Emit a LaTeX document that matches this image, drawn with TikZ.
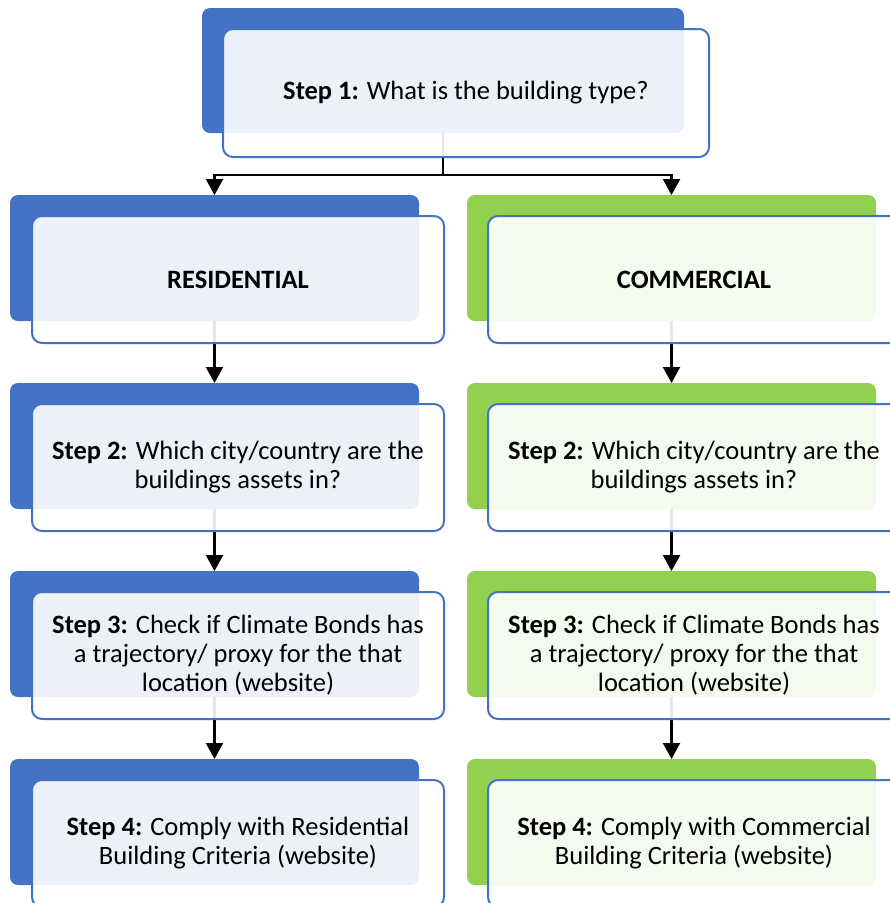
\documentclass[tikz,border=0pt]{standalone}
\usepackage{fontspec}
\setmainfont{Carlito}
\usetikzlibrary{arrows.meta}
\definecolor{stepblue}{HTML}{4472C4}
\definecolor{stepgreen}{HTML}{92D050}
\tikzset{
  backbox/.style={rectangle, rounded corners=8pt, inner sep=0pt, outer sep=0pt,
    anchor=north west, minimum width=409pt, minimum height=126pt},
  frontbox/.style={rectangle, rounded corners=10pt, draw=stepblue, line width=2pt,
    fill=white, fill opacity=0.9, text opacity=1, draw opacity=1,
    inner sep=0pt, outer sep=0pt, anchor=north west,
    minimum width=412pt, minimum height=127pt, align=center,
    font=\fontsize{26.5}{29}\selectfont},
  flow/.style={line width=2.2pt, -{Triangle[width=17pt,length=16pt]}},
}

\begin{document}
\begin{tikzpicture}[x=1pt,y=-1pt]
\path[use as bounding box, clip] (0,0) rectangle (890,903);

% coloured backs
\node[backbox, fill=stepblue, minimum width=482pt, minimum height=125pt] (type) at (202,8) {};
\node[backbox, fill=stepblue] (res1) at (10,195) {};
\node[backbox, fill=stepblue] (res2) at (10,383) {};
\node[backbox, fill=stepblue] (res3) at (10,571) {};
\node[backbox, fill=stepblue] (res4) at (10,759) {};
\node[backbox, fill=stepgreen] (com1) at (467,195) {};
\node[backbox, fill=stepgreen] (com2) at (467,383) {};
\node[backbox, fill=stepgreen] (com3) at (467,571) {};
\node[backbox, fill=stepgreen] (com4) at (467,759) {};

% connectors
\coordinate (split) at (443,175);
\draw[line width=2.2pt] (type.south) -- (split);
\draw[flow] (split) -| (res1.north);
\draw[flow] (split) -| (com1.north);
\draw[flow] (res1.south) -- (res2.north);
\draw[flow] (res2.south) -- (res3.north);
\draw[flow] (res3.south) -- (res4.north);
\draw[flow] (com1.south) -- (com2.north);
\draw[flow] (com2.south) -- (com3.north);
\draw[flow] (com3.south) -- (com4.north);

% framed fronts
\node[frontbox, minimum width=486pt, minimum height=128pt] (typetext) at (223,29)
  {\textbf{Step 1:} What is the building type?};
\node[frontbox] (res1text) at (32,216) {\textbf{RESIDENTIAL}};
\node[frontbox] (res2text) at (32,404)
  {\textbf{Step 2:} Which city/country are the\\buildings assets in?};
\node[frontbox] (res3text) at (32,592)
  {\textbf{Step 3:} Check if Climate Bonds has\\a trajectory/ proxy for the that\\location (website)};
\node[frontbox] (res4text) at (32,780)
  {\textbf{Step 4:} Comply with Residential\\Building Criteria (website)};
\node[frontbox] (com1text) at (488,216) {\textbf{COMMERCIAL}};
\node[frontbox] (com2text) at (488,404)
  {\textbf{Step 2:} Which city/country are the\\buildings assets in?};
\node[frontbox] (com3text) at (488,592)
  {\textbf{Step 3:} Check if Climate Bonds has\\a trajectory/ proxy for the that\\location (website)};
\node[frontbox] (com4text) at (488,780)
  {\textbf{Step 4:} Comply with Commercial\\Building Criteria (website)};

\end{tikzpicture}
\end{document}
